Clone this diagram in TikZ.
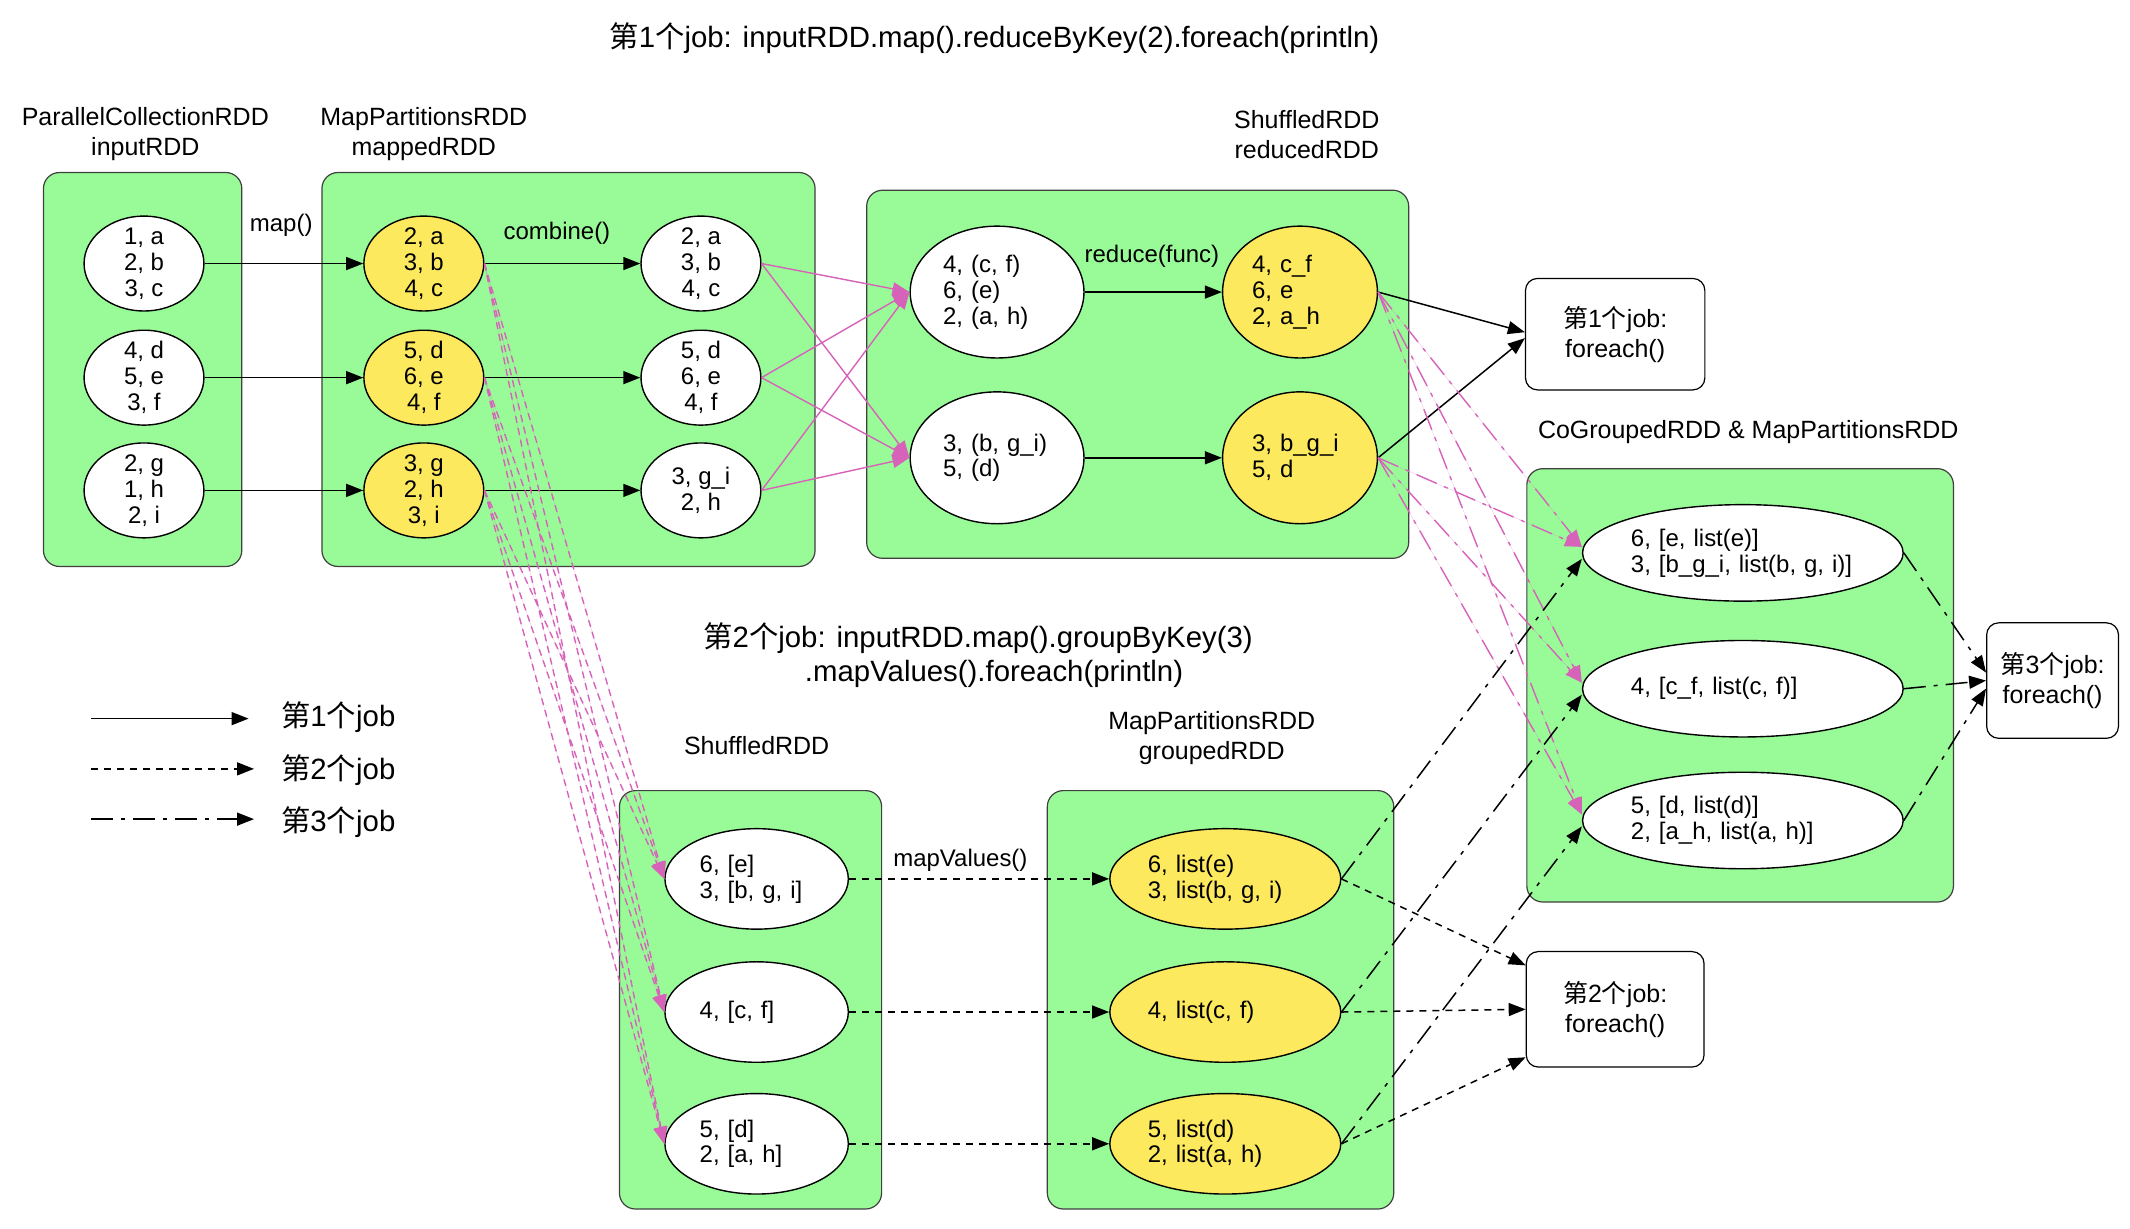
\documentclass[tikz,border=0pt]{standalone}
\usepackage{fontspec}
\setmainfont{Liberation Sans}
\newfontfamily\cjk{Noto Sans CJK SC}
\usetikzlibrary{shapes.geometric,arrows.meta}
\newcommand{\nthjob}[1]{{\cjk 第}#1{\cjk 个}job}
\definecolor{rddgreen}{HTML}{99FB98}
\definecolor{partyellow}{HTML}{FDE95E}
\definecolor{shufpink}{HTML}{D762BA}

\begin{document}
\begin{tikzpicture}[x=0.68pt,y=-0.68pt,
	every node/.style={font=\fontsize{12}{13}\selectfont},
	rdd/.style={draw=black!75,fill=rddgreen,line width=0.6pt,rounded corners=8pt},
	part/.style={ellipse,draw=black,line width=0.7pt,fill=white,inner sep=0pt},
	tuple/.style={part,minimum width=60pt,minimum height=47.5pt,inner ysep=-4pt,align=center},
	hot/.style={fill=partyellow},
	action/.style={draw=black,line width=0.6pt,rounded corners=6pt,fill=white,align=center,font=\fontsize{12.5}{15}\selectfont},
	rddname/.style={align=center,font=\fontsize{12.5}{15}\selectfont},
	headline/.style={align=center,font=\fontsize{14.7}{17}\selectfont},
	jobone/.style={-{Triangle[length=8.5pt,width=6.5pt]},line width=0.75pt},
	jobtwo/.style={jobone,dash pattern=on 3.5pt off 3pt},
	jobthree/.style={jobone,dash pattern=on 11pt off 4pt on 2pt off 4pt},
	shuffle/.style={-{Triangle[length=8.5pt,width=6.5pt]},line width=0.7pt,draw=shufpink,fill=shufpink}
]
	\useasboundingbox (0,0) rectangle (1568,904);
	\fill[white] (0,0) rectangle (1568,904);

	% titles
	\node[headline] (title1) at (732,28) {\nthjob{1}: inputRDD.map().reduceByKey(2).foreach(println)};
	\node[headline] (title2) at (720,482) {\nthjob{2}: inputRDD.map().groupByKey(3)\\\hspace*{16pt}.mapValues().foreach(println)};

	% rdd boxes
	\draw[rdd] (32,127) rectangle (178,417);
	\draw[rdd] (237,127) rectangle (600,417);
	\draw[rdd] (638,140) rectangle (1037,411);
	\draw[rdd] (456,582) rectangle (649,890);
	\draw[rdd] (771,582) rectangle (1026,890);
	\draw[rdd] (1124,345) rectangle (1438,664);

	\node[rddname] (n-input) at (107,99) {ParallelCollectionRDD\\inputRDD};
	\node[rddname] (n-mapped) at (312,99) {MapPartitionsRDD\\mappedRDD};
	\node[rddname] (n-reduced) at (962,99) {ShuffledRDD\\reducedRDD};
	\node[rddname] (n-cogroup) at (1287,318) {CoGroupedRDD \& MapPartitionsRDD};
	\node[rddname] (n-shuffled) at (557,549) {ShuffledRDD};
	\node[rddname] (n-grouped) at (892,543) {MapPartitionsRDD\\groupedRDD};

	% partitions
	\node[tuple] (in1) at (106,194) {1, a\\2, b\\3, c};
	\node[tuple] (in2) at (106,278) {4, d\\5, e\\3, f};
	\node[tuple] (in3) at (106,361) {2, g\\1, h\\2, i};
	\node[tuple,hot] (mp1) at (312,194) {2, a\\3, b\\4, c};
	\node[tuple,hot] (mp2) at (312,278) {5, d\\6, e\\4, f};
	\node[tuple,hot] (mp3) at (312,361) {3, g\\2, h\\3, i};
	\node[tuple] (cb1) at (516,194) {2, a\\3, b\\4, c};
	\node[tuple] (cb2) at (516,278) {5, d\\6, e\\4, f};
	\node[tuple] (cb3) at (516,361) {3, g\_i\\2, h};

	\node[part,minimum width=87pt,minimum height=66pt,text width=54pt,align=left] (rd1) at (734,215) {4, (c, f)\\6, (e)\\2, (a, h)};
	\node[part,minimum width=87pt,minimum height=66pt,text width=54pt,align=left] (rd2) at (734,337) {3, (b, g\_i)\\5, (d)};
	\node[part,hot,minimum width=77.5pt,minimum height=66pt,text width=48pt,align=left] (ry1) at (957,215) {4, c\_f\\6, e\\2, a\_h};
	\node[part,hot,minimum width=77.5pt,minimum height=66pt,text width=48pt,align=left] (ry2) at (957,337) {3, b\_g\_i\\5, d};

	\node[part,minimum width=91.8pt,minimum height=50.3pt,text width=57pt,align=left] (sh1) at (557,647) {6, [e]\\3, [b, g, i]};
	\node[part,minimum width=91.8pt,minimum height=50.3pt,text width=57pt,align=left] (sh2) at (557,745) {4, [c, f]};
	\node[part,minimum width=91.8pt,minimum height=50.3pt,text width=57pt,align=left] (sh3) at (557,842) {5, [d]\\2, [a, h]};
	\node[part,hot,minimum width=115.6pt,minimum height=50.3pt,text width=77.5pt,align=left] (gr1) at (902,647) {6, list(e)\\3, list(b, g, i)};
	\node[part,hot,minimum width=115.6pt,minimum height=50.3pt,text width=77.5pt,align=left] (gr2) at (902,745) {4, list(c, f)};
	\node[part,hot,minimum width=115.6pt,minimum height=50.3pt,text width=77.5pt,align=left] (gr3) at (902,842) {5, list(d)\\2, list(a, h)};

	\node[part,minimum width=160.5pt,minimum height=48.3pt,text width=112pt,align=left] (cg1) at (1283,407) {6, [e, list(e)]\\3, [b\_g\_i, list(b, g, i)]};
	\node[part,minimum width=160.5pt,minimum height=48.3pt,text width=112pt,align=left] (cg2) at (1283,507) {4, [c\_f, list(c, f)]};
	\node[part,minimum width=160.5pt,minimum height=48.3pt,text width=112pt,align=left] (cg3) at (1283,604) {5, [d, list(d)]\\2, [a\_h, list(a, h)]};

	% actions
	\node[action,minimum width=89.8pt,minimum height=55.8pt] (f1) at (1189,246) {\nthjob{1}:\\foreach()};
	\node[action,minimum width=89pt,minimum height=57.8pt] (f2) at (1189,743) {\nthjob{2}:\\foreach()};
	\node[action,minimum width=66pt,minimum height=57.8pt] (f3) at (1511,501) {\nthjob{3}:\\foreach()};

	% job 1
	\foreach \i in {1,2,3} {
		\draw[jobone] (in\i) -- (mp\i);
		\draw[jobone] (mp\i) -- (cb\i);
		\foreach \j in {1,2}
			\draw[shuffle] (cb\i.east) -- (rd\j.west);
	}
	\draw[jobone] (rd1) -- (ry1);
	\draw[jobone] (rd2) -- (ry2);
	\draw[jobone] (ry1.east) -- ([yshift=1pt]f1.west);
	\draw[jobone] (ry2.east) -- ([yshift=-2pt]f1.west);
	\node (l-map) at (207,166) {map()};
	\node (l-combine) at (410,172) {combine()};
	\node (l-reduce) at (848,189) {reduce(func)};

	% job 2
	\foreach \i in {1,2,3} {
		\foreach \j in {1,2,3}
			\draw[shuffle,dash pattern=on 3.5pt off 2.5pt] (mp\i.east) -- (sh\j.west);
		\draw[jobtwo] (sh\i) -- (gr\i);
	}
	\draw[jobtwo] (gr1.east) -- ([yshift=22pt]f2.west);
	\draw[jobtwo] (gr2.east) -- (f2.west);
	\draw[jobtwo] (gr3.east) -- ([yshift=-24pt]f2.west);
	\node (l-mapvalues) at (707,633) {mapValues()};

	% job 3
	\foreach \i in {1,2}
		\foreach \j in {1,2,3}
			\draw[shuffle,dash pattern=on 11pt off 4pt on 2pt off 4pt] (ry\i.east) -- ([yshift=3pt]cg\j.west);
	\foreach \i in {1,2,3}
		\draw[jobthree] (gr\i.east) -- ([yshift=-3pt]cg\i.west);
	\draw[jobthree] (cg1.east) -- ([yshift=4pt]f3.west);
	\draw[jobthree] (cg2.east) -- (f3.west);
	\draw[jobthree] (cg3.east) -- ([yshift=-4pt]f3.west);

	% legend
	\coordinate (l1a) at (67,529); \coordinate (l1b) at (183,529);
	\coordinate (l2a) at (67,566); \coordinate (l2b) at (187,566);
	\coordinate (l3a) at (67,603); \coordinate (l3b) at (187,603);
	\draw[jobone] (l1a) -- (l1b);
	\draw[jobtwo] (l2a) -- (l2b);
	\draw[jobthree] (l3a) -- (l3b);
	\node[headline] (t1) at (249,528) {\nthjob{1}};
	\node[headline] (t2) at (249,567) {\nthjob{2}};
	\node[headline] (t3) at (249,605) {\nthjob{3}};
\end{tikzpicture}
\end{document}
